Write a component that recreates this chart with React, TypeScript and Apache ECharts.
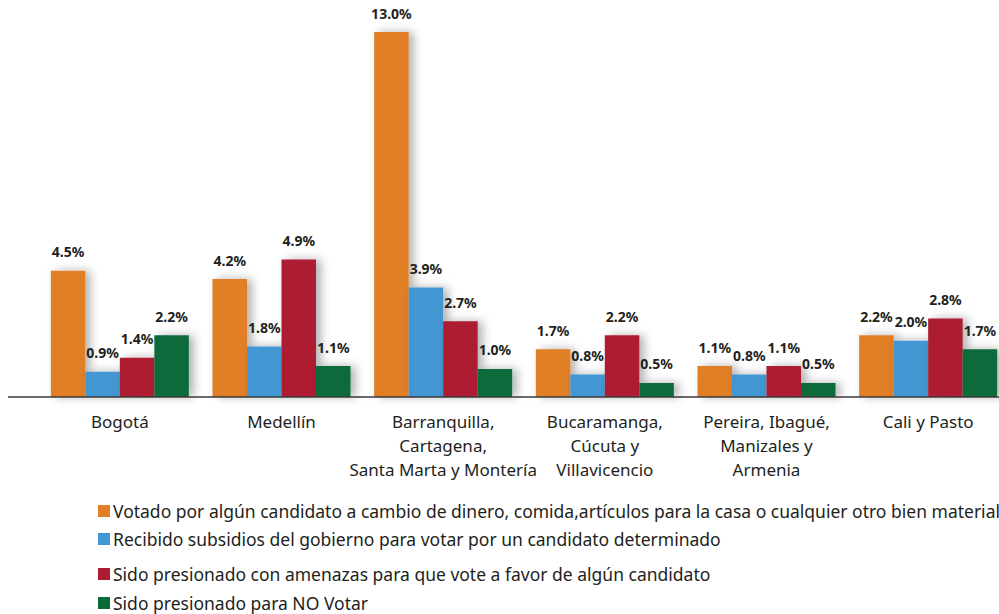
import React, { useEffect, useRef } from "react";
import * as echarts from "echarts";

const categories = [
  "Bogotá",
  "Medellín",
  "Barranquilla,\nCartagena,\nSanta Marta y Montería",
  "Bucaramanga,\nCúcuta y\nVillavicencio",
  "Pereira, Ibagué,\nManizales y\nArmenia",
  "Cali y Pasto",
];

const seriesNames = [
  "Votado por algún candidato a cambio de dinero, comida,artículos para la casa o cualquier otro bien material",
  "Recibido subsidios del gobierno para votar por un candidato determinado",
  "Sido presionado con amenazas para que vote a favor de algún candidato",
  "Sido presionado para NO Votar",
];

const votadoValues = [4.5, 4.2, 13.0, 1.7, 1.1, 2.2];
const subsidiosValues = [0.9, 1.8, 3.9, 0.8, 0.8, 2.0];
const amenazasValues = [1.4, 4.9, 2.7, 2.2, 1.1, 2.8];
const noVotarValues = [2.2, 1.1, 1.0, 0.5, 0.5, 1.7];

const colors = ["#E07F26", "#4397D2", "#AE1C33", "#0B6A3A"];
const legendTops = [502, 530, 565, 594];

export default function App() {
  const ref = useRef<HTMLDivElement>(null);
  useEffect(() => {
    if (!ref.current) return;
    const chart = echarts.init(ref.current, null, { renderer: "svg" });
    const allValues = [votadoValues, subsidiosValues, amenazasValues, noVotarValues];
    const font = "'Noto Sans', 'Open Sans', sans-serif";
    chart.setOption({
      animation: false,
      backgroundColor: "#ffffff",
      grid: { left: 39, top: 32, width: 970, height: 365, containLabel: false },
      xAxis: {
        type: "category",
        data: categories,
        axisLine: { show: false },
        axisTick: { show: false },
        axisLabel: {
          interval: 0,
          color: "#231F20",
          fontSize: 17,
          fontFamily: font,
          lineHeight: 24,
          margin: 12,
        },
      },
      yAxis: {
        type: "value",
        min: 0,
        max: 13,
        show: false,
        splitLine: { show: false },
      },
      legend: seriesNames.map((n, i) => ({
        data: [n],
        orient: "vertical",
        left: 98,
        top: legendTops[i],
        icon: "rect",
        itemWidth: 12,
        itemHeight: 12,
        selectedMode: false,
        padding: 0,
        textStyle: {
          color: "#231F20",
          fontSize: 17.5,
          lineHeight: 18,
          fontFamily: font,
          padding: [0, 0, 0, -2],
        },
      })),
      series: seriesNames.map((n, i) => ({
        name: n,
        type: "bar",
        data: allValues[i],
        barWidth: 34.5,
        barGap: "0%",
        itemStyle: {
          color: colors[i],
          shadowBlur: 10,
          shadowOffsetX: 5,
          shadowColor: "rgba(0,0,0,0.3)",
        },
        label: {
          show: true,
          position: "top",
          distance: 12,
          formatter: (p: any) => p.value.toFixed(1) + "%",
          color: "#231F20",
          fontWeight: "bold",
          fontSize: 14,
          fontFamily: font,
        },
      })),
      graphic: [
        {
          type: "line",
          shape: { x1: 8, y1: 397, x2: 999, y2: 397 },
          style: { stroke: "#3a3a3a", lineWidth: 1.5 },
          z: 10,
        },
      ],
    });
    return () => chart.dispose();
  }, []);
  return (
    <div
      ref={ref}
      style={{ position: "fixed", left: 0, top: 0, width: 1020, height: 614 }}
    />
  );
}
